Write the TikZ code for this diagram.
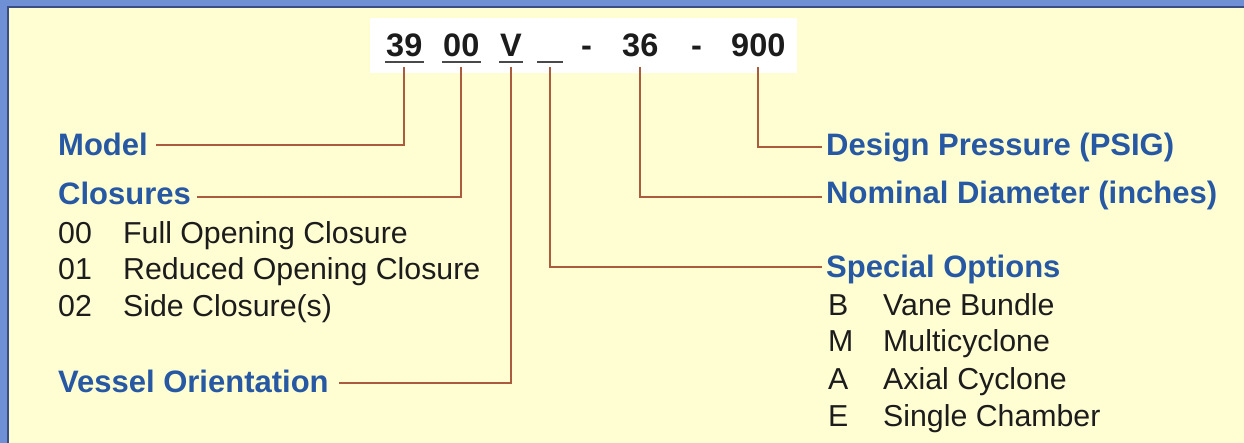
\documentclass[tikz,border=0pt]{standalone}
\usepackage{fontspec}
\setmainfont{Liberation Sans}
\definecolor{bgyellow}{RGB}{255,253,210}
\definecolor{frameblue}{RGB}{112,144,214}
\definecolor{framedark}{RGB}{58,78,130}
\definecolor{lblblue}{RGB}{38,88,163}
\definecolor{txtblack}{RGB}{28,28,28}
\definecolor{connbrown}{RGB}{172,92,62}
\tikzset{
  codetxt/.style={anchor=base west, inner sep=0pt, text=txtblack, font=\fontsize{32.5}{36}\selectfont\bfseries},
  lbl/.style={anchor=base west, inner sep=0pt, text=lblblue, font=\fontsize{31}{36}\selectfont\bfseries},
  itm/.style={anchor=base west, inner sep=0pt, text=txtblack, font=\fontsize{30.3}{36}\selectfont},
  conn/.style={draw=connbrown, line width=2pt},
  uline/.style={draw=txtblack!80, line width=2pt}
}
\begin{document}
\begin{tikzpicture}[x=1pt,y=-1pt]
\useasboundingbox (0,0) rectangle (1244,443);
\fill[bgyellow] (0,0) rectangle (1244,443);
\fill[frameblue] (0,0) rectangle (1244,7);
\fill[frameblue] (0,0) rectangle (8,443);
\draw[framedark, line width=2pt] (8,443) -- (8,7) -- (1244,7);
\fill[white] (370,18) rectangle (797,73);

% code row
\node[codetxt] (c39) at (386,57) {39};
\node[codetxt] (c00) at (443,57) {00};
\node[codetxt] (cV) at (500,57) {V};
\node[codetxt, minimum width=24pt] (cbl) at (538,57) {};
\node[codetxt] (d1) at (581,57) {-};
\node[codetxt] (c36) at (622,57) {36};
\node[codetxt] (d2) at (691,57) {-};
\node[codetxt] (c900) at (731,57) {900};
\foreach \n in {c39,c00,cV,cbl}{
  \draw[uline] ([xshift=-1pt,yshift=-5pt]\n.base west) -- ([xshift=1pt,yshift=-5pt]\n.base east);
}

% left labels
\node[lbl] (model) at (58,156) {Model};
\node[lbl] (clos) at (58,205) {Closures};
\node[itm] (i00) at (58,244) {00};
\node[itm] (t00) at (123,244) {Full Opening Closure};
\node[itm] (i01) at (58,280) {01};
\node[itm] (t01) at (123,280) {Reduced Opening Closure};
\node[itm] (i02) at (58,317) {02};
\node[itm] (t02) at (123,317) {Side Closure(s)};
\node[lbl] (vess) at (58,392) {Vessel Orientation};

% right labels
\node[lbl] (design) at (826,156) {Design Pressure (PSIG)};
\node[lbl] (nomd) at (826,204) {Nominal Diameter (inches)};
\node[lbl] (spec) at (826,278) {Special Options};
\node[itm] (iB) at (828,316) {B};
\node[itm] (tB) at (883,316) {Vane Bundle};
\node[itm] (iM) at (828,352) {M};
\node[itm] (tM) at (883,352) {Multicyclone};
\node[itm] (iA) at (828,389) {A};
\node[itm] (tA) at (883,389) {Axial Cyclone};
\node[itm] (iE) at (828,426) {E};
\node[itm] (tE) at (883,426) {Single Chamber};

% connectors
\draw[conn] ([yshift=-10pt]c39.base) |- ([xshift=8pt,yshift=11pt]model.base east);
\draw[conn] ([yshift=-10pt]c00.base) |- ([xshift=6pt,yshift=8pt]clos.base east);
\draw[conn] ([yshift=-10pt]cV.base) |- ([xshift=10pt,yshift=9pt]vess.base east);
\draw[conn] ([yshift=-10pt]cbl.base) |- ([xshift=-4pt,yshift=11pt]spec.base west);
\draw[conn] ([yshift=-10pt]c36.base) |- ([xshift=-4pt,yshift=7pt]nomd.base west);
\draw[conn] ([yshift=-10pt]c900.base) |- ([xshift=-4pt,yshift=9pt]design.base west);
\end{tikzpicture}
\end{document}
